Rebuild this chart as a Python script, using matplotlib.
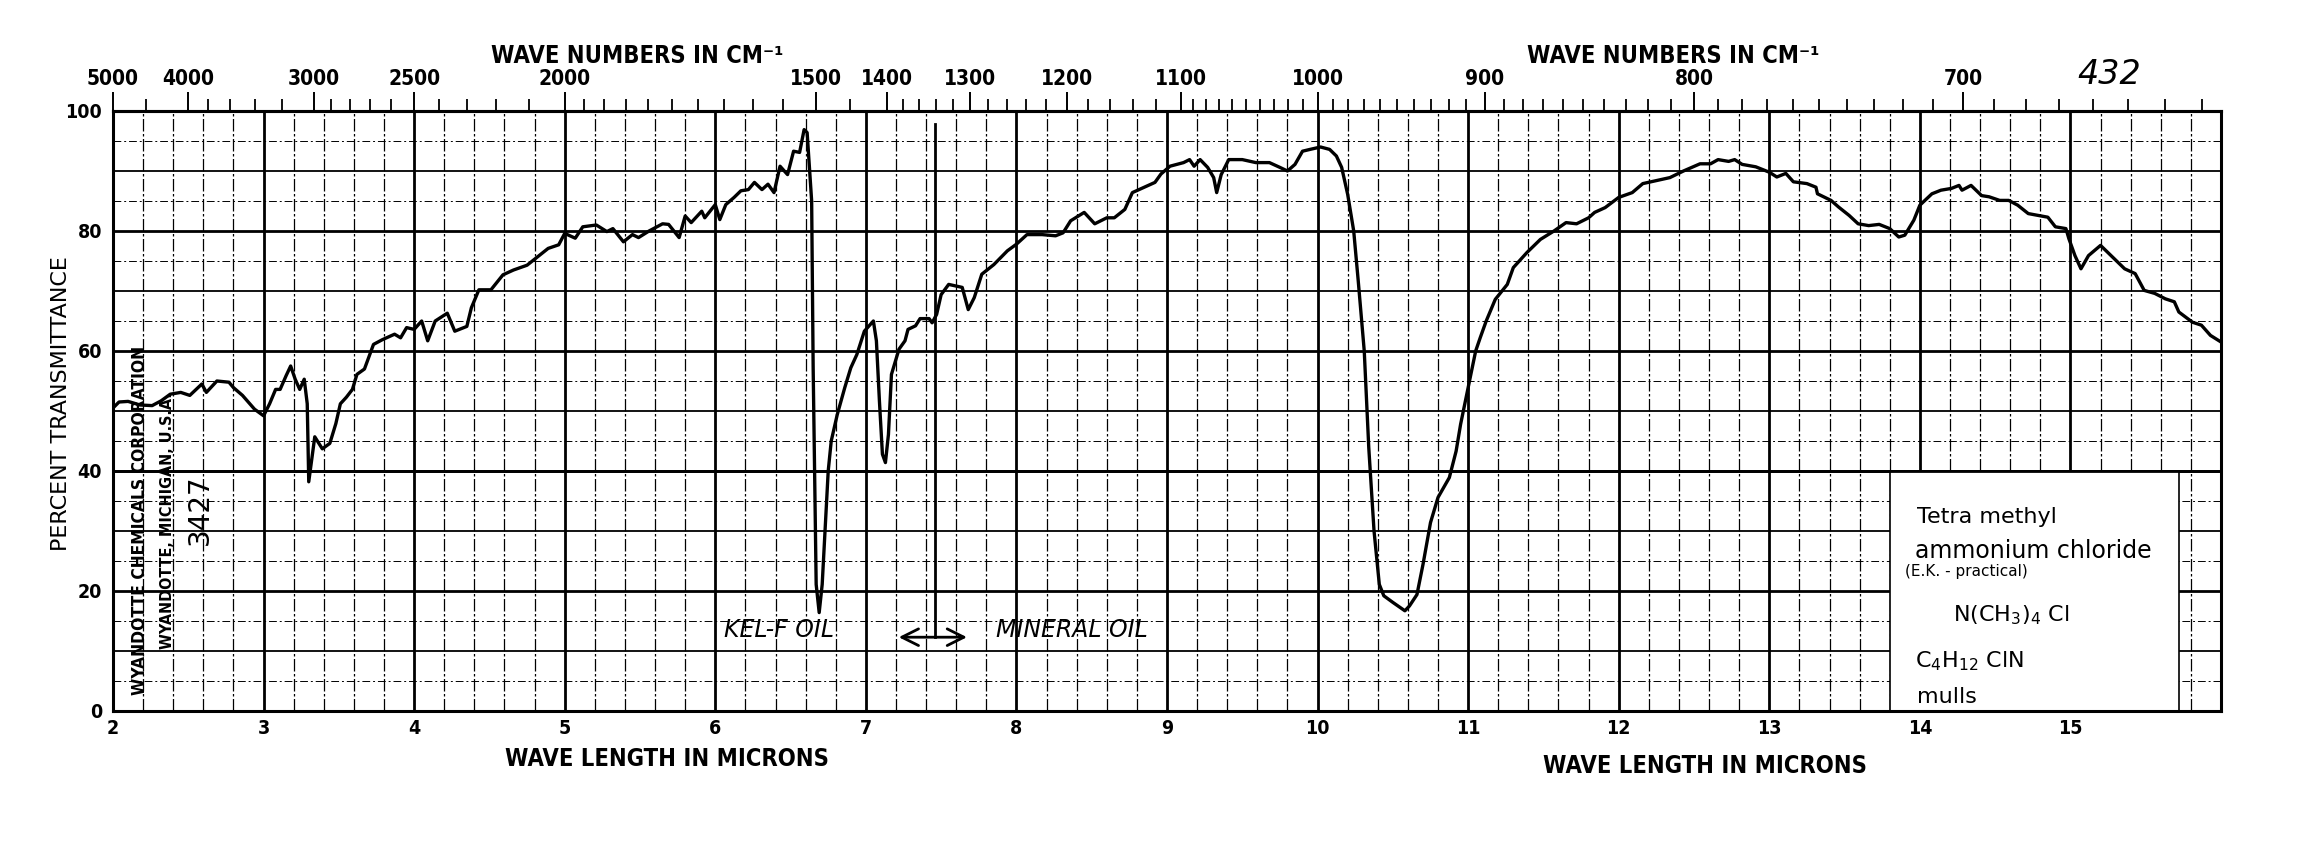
import numpy as np
import matplotlib.pyplot as plt
from matplotlib.patches import Rectangle

# spectrum (wavelength in microns, percent transmittance)
wavelength = [2.00, 2.04, 2.10, 2.18, 2.26, 2.32, 2.38, 2.45, 2.51, 2.59, 2.62, 2.69, 2.77, 2.80,
              2.86, 2.94, 3.00, 3.04, 3.08, 3.11, 3.15, 3.18, 3.21, 3.24, 3.27, 3.29, 3.30, 3.34,
              3.39, 3.44, 3.48, 3.51, 3.55, 3.59, 3.62, 3.67, 3.73, 3.79, 3.87, 3.91, 3.95, 4.00,
              4.05, 4.09, 4.14, 4.22, 4.27, 4.35, 4.38, 4.43, 4.51, 4.59, 4.66, 4.75, 4.82, 4.89,
              4.96, 5.00, 5.07, 5.12, 5.21, 5.28, 5.32, 5.39, 5.45, 5.49, 5.56, 5.65, 5.69, 5.76,
              5.80, 5.84, 5.91, 5.93, 6.00, 6.03, 6.07, 6.125, 6.17, 6.22, 6.26, 6.31, 6.35, 6.39,
              6.43, 6.48, 6.52, 6.56, 6.59, 6.61, 6.64, 6.65, 6.67, 6.69, 6.71, 6.75, 6.77, 6.81,
              6.86, 6.90, 6.94, 6.99, 7.05, 7.07, 7.09, 7.11, 7.13, 7.15, 7.17, 7.22, 7.26, 7.28,
              7.33, 7.36, 7.42, 7.44, 7.47, 7.50, 7.55, 7.64, 7.68, 7.72, 7.77, 7.85, 7.94, 8.00,
              8.07, 8.17, 8.26, 8.31, 8.36, 8.45, 8.52, 8.60, 8.65, 8.72, 8.77, 8.85, 8.92, 8.96,
              9.02, 9.11, 9.15, 9.18, 9.22, 9.27, 9.31, 9.33, 9.36, 9.41, 9.50, 9.59, 9.68, 9.75,
              9.80, 9.85, 9.90, 9.95, 10.02, 10.08, 10.125, 10.16, 10.20, 10.24, 10.27, 10.31,
              10.34, 10.375, 10.41, 10.44, 10.50, 10.58, 10.61, 10.66, 10.70, 10.75, 10.80,
              10.875, 10.92, 10.95, 11.00, 11.05, 11.08, 11.12, 11.18, 11.26, 11.30, 11.39,
              11.48, 11.57, 11.65, 11.72, 11.80, 11.84, 11.91, 12.00, 12.09, 12.16, 12.25,
              12.34, 12.43, 12.54, 12.61, 12.66, 12.73, 12.77, 12.82, 12.91, 13.00, 13.05,
              13.11, 13.16, 13.25, 13.31, 13.32, 13.41, 13.46, 13.53, 13.59, 13.66, 13.73,
              13.80, 13.86, 13.90, 13.96, 14.00, 14.08, 14.14, 14.21, 14.26, 14.28, 14.34,
              14.41, 14.46, 14.53, 14.59, 14.65, 14.72, 14.85, 14.90, 14.97, 14.99, 15.03,
              15.07, 15.12, 15.20, 15.29, 15.36, 15.43, 15.49, 15.56, 15.63, 15.69, 15.72,
              15.81, 15.87, 15.93, 16.00]
transmittance = [50.5, 51.5, 51.6, 51.0, 50.9, 51.7, 52.8, 53.1, 52.6, 54.5, 53.1, 55.0, 54.8, 53.9,
                 52.6, 50.3, 49.2, 51.2, 53.6, 53.6, 55.9, 57.5, 55.3, 53.6, 55.3, 51.2, 38.2, 45.7,
                 43.7, 44.6, 47.9, 51.2, 52.3, 53.6, 56.1, 57.0, 61.1, 61.9, 62.8, 62.2, 63.9, 63.6,
                 65.0, 61.7, 65.0, 66.3, 63.3, 64.1, 67.2, 70.2, 70.2, 72.7, 73.5, 74.3, 75.7, 77.1,
                 77.7, 79.6, 78.8, 80.7, 81.0, 79.9, 80.4, 78.2, 79.4, 78.9, 80.0, 81.2, 81.1, 78.9,
                 82.5, 81.4, 83.3, 82.2, 84.4, 81.9, 84.4, 85.6, 86.7, 86.9, 88.1, 86.9, 87.8, 86.4,
                 90.8, 89.4, 93.3, 93.1, 96.9, 96.4, 85.0, 57.2, 21.1, 16.4, 21.1, 40.0, 45.0, 49.4,
                 53.9, 57.2, 59.4, 63.3, 65.0, 61.7, 51.7, 42.8, 41.4, 46.1, 56.1, 60.3, 61.7, 63.6,
                 64.2, 65.4, 65.4, 64.7, 66.1, 69.4, 71.1, 70.6, 66.9, 68.9, 72.8, 74.4, 76.7, 77.8,
                 79.4, 79.4, 79.2, 79.7, 81.7, 83.1, 81.2, 82.2, 82.2, 83.6, 86.4, 87.3, 88.1, 89.5,
                 90.8, 91.4, 91.9, 90.8, 91.9, 90.6, 88.9, 86.4, 89.4, 91.9, 91.9, 91.4, 91.4, 90.6,
                 90.0, 91.1, 93.3, 93.6, 94.0, 93.6, 92.5, 90.6, 86.1, 80.0, 71.7, 60.0,
                 43.9, 30.0, 21.1, 19.2, 18.1, 16.7, 17.5, 19.4, 24.4, 31.4, 35.6,
                 38.9, 43.3, 47.8, 53.9, 60.0, 62.2, 65.0, 68.6, 71.1, 73.9, 76.4,
                 78.6, 80.0, 81.4, 81.2, 82.2, 83.1, 83.9, 85.6, 86.4, 87.9, 88.4,
                 88.9, 90.0, 91.2, 91.2, 91.9, 91.6, 91.9, 91.1, 90.7, 89.8, 89.0,
                 89.6, 88.2, 87.9, 87.3, 86.2, 85.1, 84.0, 82.6, 81.2, 80.9, 81.1,
                 80.4, 79.0, 79.3, 81.8, 84.3, 86.2, 86.8, 87.1, 87.6, 86.8, 87.6,
                 85.9, 85.7, 85.1, 85.1, 84.3, 82.9, 82.3, 80.7, 80.4, 78.7, 75.9,
                 73.7, 75.9, 77.6, 75.4, 73.7, 72.9, 70.1, 69.6, 68.7, 68.2, 66.5,
                 64.8, 64.3, 62.6, 61.5]

micron_ticks = list(range(2, 16))
percent_ticks = [0, 20, 40, 60, 80, 100]
wavenumber_labels = [5000, 4000, 3000, 2500, 2000, 1500, 1400, 1300, 1200, 1100, 1000, 900, 800, 700]
wavenumber_minor = ([4500, 3800, 3600, 3400, 3200, 2900, 2800, 2700, 2600, 2400, 2300, 2200, 2100]
                    + list(range(1950, 1500, -50)) + [1450]
                    + [n for n in range(1380, 1100, -20) if n % 100]
                    + [n for n in range(1090, 620, -10) if n % 100])

bold = dict(family='DejaVu Sans', weight='bold', stretch='condensed')
hand = dict(family='DejaVu Sans')

fig = plt.figure(figsize=(22.99, 8.5), dpi=100)
ax = fig.add_axes([113 / 2299, 1 - 711 / 850, 2108 / 2299, 600 / 850])
ax.set_xlim(2, 16)
ax.set_ylim(0, 100)

# chart paper grid
for x in np.arange(2.2, 16, 0.2):
    if abs(x - round(x)) > 0.01:
        ax.axvline(x, color='k', lw=0.9, ls=(0, (10, 2, 2, 2)), zorder=1)
for x in range(3, 16):
    ax.axvline(x, color='k', lw=2.0, zorder=1)
for y in range(5, 100, 10):
    ax.axhline(y, color='k', lw=0.7, ls=(0, (8, 3, 2, 3)), zorder=1)
for y in range(10, 100, 20):
    ax.axhline(y, color='k', lw=1.3, zorder=1)
for y in range(20, 100, 20):
    ax.axhline(y, color='k', lw=2.0, zorder=1)

# pasted label
ax.add_patch(Rectangle((13.8, 0), 1.92, 40, fc='white', ec='k', lw=1.2, zorder=2))
ax.plot([2, 16], [40, 40], color='k', lw=2.0, zorder=3)

ax.plot(wavelength, transmittance, color='k', lw=2.4, zorder=5)

# oil changeover marker
ax.plot([7.46, 7.46], [12.3, 97.9], color='k', lw=2.0, zorder=5)
ax.annotate('', xy=(7.2, 12.3), xytext=(7.69, 12.3),
            arrowprops=dict(arrowstyle='<->', lw=2.0, color='k', mutation_scale=30), zorder=5)
ax.text(6.42, 13.5, 'KEL-F OIL', fontsize=17, style='italic', ha='center', va='center', zorder=6, **hand)
ax.text(8.37, 13.5, 'MINERAL OIL', fontsize=17, style='italic', ha='center', va='center', zorder=6, **hand)

for s in ax.spines.values():
    s.set_linewidth(2.2)

ax.set_xticks(micron_ticks)
ax.set_xticklabels([str(m) for m in micron_ticks], fontsize=14, **bold)
ax.set_yticks(percent_ticks)
ax.set_yticklabels([str(p) for p in percent_ticks], fontsize=14, **bold)
ax.tick_params(axis='x', length=0, pad=6)
ax.tick_params(axis='y', length=0, pad=8)

top = ax.secondary_xaxis('top')
top.set_xticks([1e4 / n for n in wavenumber_labels])
top.set_xticklabels([str(n) for n in wavenumber_labels], fontsize=15, **bold)
top.set_xticks([1e4 / n for n in wavenumber_minor], minor=True)
top.tick_params(axis='x', which='major', direction='out', length=14, width=1.4, pad=2)
top.tick_params(axis='x', which='minor', direction='out', length=9, width=1.3)
top.spines['top'].set_linewidth(2.2)

# axis titles
for x in (5.48, 12.36):
    ax.text(x, 109.2, 'WAVE NUMBERS IN CM\u207b\u00b9', fontsize=17, ha='center', va='center',
            clip_on=False, **bold)
for x, y in ((5.68, -8.0), (12.57, -9.2)):
    ax.text(x, y, 'WAVE LENGTH IN MICRONS', fontsize=17, ha='center', va='center',
            clip_on=False, **bold)
fig.text(61 / 2299, 1 - 404 / 850, 'PERCENT TRANSMITTANCE', rotation=90, fontsize=16,
         ha='center', va='center', family='DejaVu Sans')

ax.text(2.18, 31.7, 'WYANDOTTE CHEMICALS CORPORATION', rotation=90, fontsize=12.5,
        ha='center', va='center', zorder=4, **bold)
ax.text(2.365, 31.8, 'WYANDOTTE, MICHIGAN, U.S.A.', rotation=90, fontsize=11.5,
        ha='center', va='center', zorder=4, **bold)
ax.text(2.58, 33.5, '3427', rotation=90, fontsize=20, ha='center', va='center', zorder=4, **hand)
ax.text(15.26, 106, '432', fontsize=24, style='italic', ha='center', va='center', clip_on=False, **hand)

# label contents
ax.text(13.98, 32.3, 'Tetra methyl', fontsize=16, va='center', zorder=6, **hand)
ax.text(13.97, 26.7, 'ammonium chloride', fontsize=17, va='center', zorder=6, **hand)
ax.text(13.90, 23.2, '(E.K. - practical)', fontsize=11, va='center', zorder=6, **hand)
ax.text(14.22, 16.0, r'N(CH$_3$)$_4$ Cl', fontsize=16, va='center', zorder=6, **hand)
ax.text(13.97, 8.3, r'C$_4$H$_{12}$ ClN', fontsize=16, va='center', zorder=6, **hand)
ax.text(13.98, 2.4, 'mulls', fontsize=16, va='center', zorder=6, **hand)

plt.savefig('out.png', dpi=100)
